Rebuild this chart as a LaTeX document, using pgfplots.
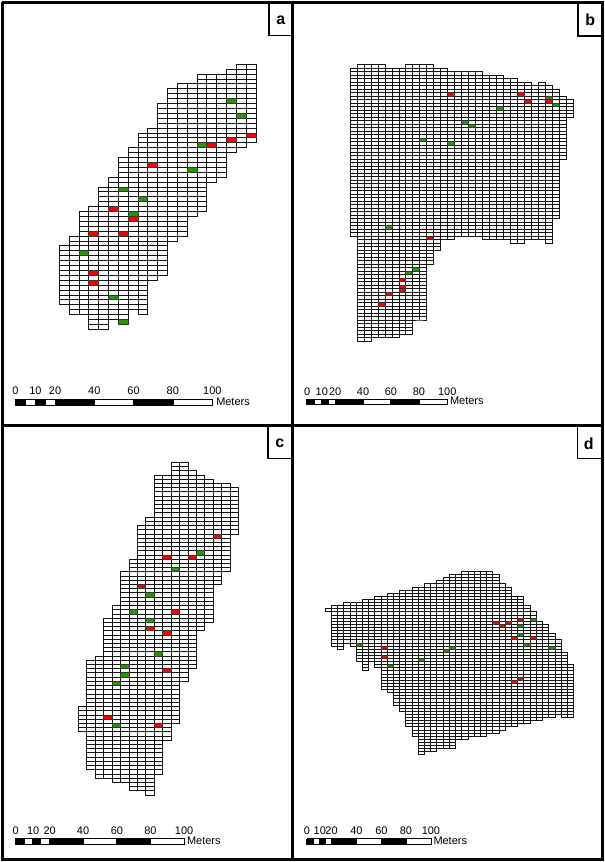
\documentclass[border=0pt]{standalone}
\usepackage{pgfplots}
\usepackage{pgfplotstable}
\usepackage{fontspec}
\setmainfont{Liberation Sans}
\pgfplotsset{compat=1.18}
\definecolor{cellgreen}{RGB}{40,150,0}
\definecolor{cellred}{RGB}{240,0,0}
\definecolor{gridink}{RGB}{20,20,20}

\pgfplotstableread{
c top bot
0 37 49
1 35 51
2 30 51
3 29 54
4 25 54
5 23 52
6 19 53
7 17 50
8 14 51
9 13 44
10 8 43
11 5 36
12 4 35
13 4 31
14 2 30
15 2 24
16 2 23
17 1 18
18 0 17
19 0 16
20 0 16
}\tablea
\pgfplotstableread{
c top bot
0 1 49
1 0 79
2 0 79
3 0 78
4 0 78
5 1 78
6 1 78
7 1 77
8 0 77
9 0 73
10 0 73
11 0 57
12 1 53
13 1 50
14 2 50
15 2 49
16 2 49
17 2 49
18 2 49
19 3 50
20 3 50
21 3 50
22 4 50
23 4 51
24 5 51
25 5 50
26 6 50
27 5 50
28 6 51
29 7 44
30 9 27
31 10 15
32 10 15
}\tableb
\pgfplotstableread{
c top bot
0 58 64
1 47 73
2 46 75
3 37 75
4 34 76
5 26 76
6 23 78
7 15 78
8 13 79
9 3 74
10 3 66
11 0 62
12 0 52
13 2 49
14 3 40
15 4 38
16 5 29
17 5 26
18 6 17
19 6 17
}\tablec
\pgfplotstableread{
c top bot
0 12 13
1 11 24
2 11 25
3 10 23
4 10 24
5 10 29
6 9 32
7 9 29
8 8 31
9 8 38
10 7 39
11 7 43
12 6 45
13 6 50
14 5 53
15 5 59
16 4 58
17 4 58
18 3 57
19 2 57
20 1 57
21 1 54
22 0 54
23 0 53
24 0 53
25 0 53
26 0 52
27 1 52
28 4 51
29 5 50
30 8 50
31 8 49
32 11 49
33 13 48
34 16 48
35 17 47
36 20 47
37 22 46
38 26 47
39 30 47
40 30 47
}\tabled

% #1 table, #2 n columns, #3 n-1, #4 m rows, #5 m-1, #6 left, #7 top (from bottom), #8 width, #9 height
\newcommand\panelaxis[9]{%
\begin{axis}[at={(#6pt,#7pt)},anchor=north west,scale only axis,width=#8pt,height=#9pt,
  xmin=0,xmax=#2,ymin=0,ymax=#4,y dir=reverse,clip=false,
  xtick={1,...,#3},ytick={1,...,#5},xticklabels={},yticklabels={},
  major tick length=0pt,tick style={draw=none},axis line style={draw=none},
  grid=major,grid style={gridink,line width=\gridw}]
\addplot[const plot,fill=white,draw=none] table[x=c,y=top]{#1} -- (axis cs:#2,0) -- (axis cs:0,0) -- cycle;
\addplot[const plot,fill=white,draw=none] table[x=c,y=bot]{#1} -- (axis cs:#2,#4) -- (axis cs:0,#4) -- cycle;
\addplot[draw=none,fill=white] coordinates {(-0.4,-1)(0.03,-1)(0.03,#4+1)(-0.4,#4+1)};
\addplot[draw=none,fill=white] coordinates {(#2-0.03,-1)(#2+0.4,-1)(#2+0.4,#4+1)(#2-0.03,#4+1)};
\addplot[draw=none,fill=white] coordinates {(-0.4,-0.6)(#2+0.4,-0.6)(#2+0.4,0.06)(-0.4,0.06)};
\addplot[draw=none,fill=white] coordinates {(-0.4,#4-0.06)(#2+0.4,#4-0.06)(#2+0.4,#4+0.6)(-0.4,#4+0.6)};
\addplot[const plot,gridink,line width=\gridw] table[x=c,y=top]{#1};
\addplot[const plot,gridink,line width=\gridw] table[x=c,y=bot]{#1};
\cellsandsides
\end{axis}}

\pgfplotsset{cellopts/.style n args={3}{only marks,mark=square*,mark size=0.5pt,
  mark options={xscale=#1,yscale=#2,draw=black!80,fill=#3,line width=\gridw}}}

\begin{document}
\begin{tikzpicture}
\begin{axis}[at={(0pt,0pt)},anchor=south west,scale only axis,width=604pt,height=862pt,
  xmin=0,xmax=604,ymin=0,ymax=862,y dir=reverse,hide axis,clip=false]
% frames
\addplot[black,line width=2.4pt] coordinates {(1,1)(602.2,1)(602.2,859.7)(1,859.7)(1,1)};
\addplot[black,line width=2.8pt] coordinates {(292,0)(292,861)};
\addplot[black,line width=3pt] coordinates {(0,424.5)(603,424.5)};
% label boxes
\addplot[black,line width=1.2pt] coordinates {(268,1)(268,34)(292,34)};
\addplot[black,line width=1.2pt] coordinates {(577.7,1)(577.7,34.7)(602,34.7)};
\addplot[black,line width=1.2pt] coordinates {(267,425)(267,457.7)(292,457.7)};
\addplot[black,line width=1.2pt] coordinates {(577.3,425)(577.3,457.7)(602,457.7)};
\node[font=\fontsize{16}{16}\selectfont\bfseries] at (axis cs:280,18.5) {a};
\node[font=\fontsize{16}{16}\selectfont\bfseries] at (axis cs:590,18.5) {b};
\node[font=\fontsize{16}{16}\selectfont\bfseries] at (axis cs:279,443) {c};
\node[font=\fontsize{16}{16}\selectfont\bfseries] at (axis cs:588.5,443) {d};
% scale bar a
\addplot[draw=black,fill=white,line width=0.8pt] coordinates {(13.7,398.5)(211,398.5)(211,405)(13.7,405)(13.7,398.5)};
\addplot[draw=none,fill=black] coordinates {(13.7,398.5)(25,398.5)(25,405)(13.7,405)};
\addplot[draw=none,fill=black] coordinates {(34,398.5)(44.3,398.5)(44.3,405)(34,405)};
\addplot[draw=none,fill=black] coordinates {(53.3,398.5)(93.3,398.5)(93.3,405)(53.3,405)};
\addplot[draw=none,fill=black] coordinates {(132,398.5)(172.7,398.5)(172.7,405)(132,405)};
% scale bar b
\addplot[draw=black,fill=white,line width=0.8pt] coordinates {(305.7,398.5)(447,398.5)(447,404)(305.7,404)(305.7,398.5)};
\addplot[draw=none,fill=black] coordinates {(305.7,398.5)(314,398.5)(314,404)(305.7,404)};
\addplot[draw=none,fill=black] coordinates {(319.7,398.5)(328.3,398.5)(328.3,404)(319.7,404)};
\addplot[draw=none,fill=black] coordinates {(334,398.5)(363,398.5)(363,404)(334,404)};
\addplot[draw=none,fill=black] coordinates {(389.7,398.5)(419,398.5)(419,404)(389.7,404)};
% scale bar c
\addplot[draw=black,fill=white,line width=0.8pt] coordinates {(14,838.7)(183.3,838.7)(183.3,845)(14,845)(14,838.7)};
\addplot[draw=none,fill=black] coordinates {(14,838.7)(23.3,838.7)(23.3,845)(14,845)};
\addplot[draw=none,fill=black] coordinates {(30.7,838.7)(40,838.7)(40,845)(30.7,845)};
\addplot[draw=none,fill=black] coordinates {(47.7,838.7)(82.7,838.7)(82.7,845)(47.7,845)};
\addplot[draw=none,fill=black] coordinates {(115,838.7)(150,838.7)(150,845)(115,845)};
% scale bar d
\addplot[draw=black,fill=white,line width=0.8pt] coordinates {(305.7,839)(430.3,839)(430.3,845)(305.7,845)(305.7,839)};
\addplot[draw=none,fill=black] coordinates {(305.7,839)(312.7,839)(312.7,845)(305.7,845)};
\addplot[draw=none,fill=black] coordinates {(317.7,839)(325.3,839)(325.3,845)(317.7,845)};
\addplot[draw=none,fill=black] coordinates {(330,839)(356.3,839)(356.3,845)(330,845)};
\addplot[draw=none,fill=black] coordinates {(380,839)(406,839)(406,845)(380,845)};
% scale texts
\begin{scope}[every node/.style={font=\fontsize{11}{11}\selectfont,inner sep=0pt}]
\node at (axis cs:14,389.7) {0};
\node at (axis cs:34,389.7) {10};
\node at (axis cs:53.7,389.7) {20};
\node at (axis cs:93,389.7) {40};
\node at (axis cs:132.3,389.7) {60};
\node at (axis cs:171.7,389.7) {80};
\node at (axis cs:211.3,389.7) {100};
\node[anchor=west] at (axis cs:215,401) {Meters};
\node at (axis cs:306.3,390.7) {0};
\node at (axis cs:321,390.7) {10};
\node at (axis cs:334.3,390.7) {20};
\node at (axis cs:362.3,390.7) {40};
\node at (axis cs:390.3,390.7) {60};
\node at (axis cs:418.3,390.7) {80};
\node at (axis cs:446.7,390.7) {100};
\node[anchor=west] at (axis cs:449.3,400.7) {Meters};
\node at (axis cs:14.3,830.7) {0};
\node at (axis cs:31.7,830.7) {10};
\node at (axis cs:48.3,830.7) {20};
\node at (axis cs:81.7,830.7) {40};
\node at (axis cs:115.7,830.7) {60};
\node at (axis cs:149.3,830.7) {80};
\node at (axis cs:183,830.7) {100};
\node[anchor=west] at (axis cs:185.7,841) {Meters};
\node at (axis cs:306,830.7) {0};
\node at (axis cs:319,830.7) {10};
\node at (axis cs:330.7,830.7) {20};
\node at (axis cs:355.7,830.7) {40};
\node at (axis cs:380.7,830.7) {60};
\node at (axis cs:405.3,830.7) {80};
\node at (axis cs:430.3,830.7) {100};
\node[anchor=west] at (axis cs:432.7,841) {Meters};
\end{scope}
\end{axis}

\def\gridw{0.92pt}
% panel a
\def\cellsandsides{%
\addplot[gridink,line width=\gridw] coordinates {(0,37)(0,49)};
\addplot[gridink,line width=\gridw] coordinates {(20,0)(20,16)};
\addplot[cellopts={9.85}{4.92}{cellgreen}] coordinates {(17.5,7.5)(18.5,10.5)(14.5,16.5)(13.5,21.5)(6.5,25.5)(8.5,27.5)(7.5,30.5)(2.5,38.5)(5.5,47.5)(6.5,52.5)};
\addplot[cellopts={9.85}{4.92}{cellred}] coordinates {(19.5,14.5)(17.5,15.5)(15.5,16.5)(9.5,20.5)(5.5,29.5)(7.5,31.5)(3.5,34.5)(6.5,34.5)(3.5,42.5)(3.5,44.5)};
}
\panelaxis{\tablea}{20}{19}{54}{53}{58}{799}{197}{265.7}

% panel b
\def\cellsandsides{%
\addplot[gridink,line width=\gridw] coordinates {(0,1)(0,49)};
\addplot[gridink,line width=\gridw] coordinates {(32,10)(32,15)};
\addplot[cellopts={7}{3.5}{cellgreen}] coordinates {(28.5,9.5)(29.5,11.5)(21.5,12.5)(16.5,16.5)(17.5,17.5)(10.5,21.5)(14.5,22.5)(5.5,46.5)(9.5,58.5)(8.5,59.5)};
\addplot[cellopts={7}{3.5}{cellred}] coordinates {(14.5,8.5)(24.5,8.5)(25.5,10.5)(28.5,10.5)(11.5,49.5)(7.5,61.5)(7.5,63.5)(7.5,64.5)(5.5,65.5)(4.5,68.5)};
}
\panelaxis{\tableb}{32}{31}{79}{78}{349.3}{798.3}{224}{276.6}

% panel c
\def\cellsandsides{%
\addplot[gridink,line width=\gridw] coordinates {(0,58)(0,64)};
\addplot[gridink,line width=\gridw] coordinates {(19,6)(19,17)};
\addplot[cellopts={8.46}{4.22}{cellgreen}] coordinates {(14.5,21.5)(11.5,25.5)(8.5,31.5)(6.5,35.5)(8.5,37.5)(9.5,45.5)(5.5,48.5)(5.5,50.5)(4.5,52.5)(4.5,62.5)};
\addplot[cellopts={8.46}{4.22}{cellred}] coordinates {(16.5,17.5)(10.5,22.5)(13.5,22.5)(7.5,29.5)(11.5,35.5)(8.5,39.5)(10.5,40.5)(10.5,49.5)(3.5,60.5)(9.5,62.5)};
}
\panelaxis{\tablec}{19}{18}{79}{78}{77}{400}{160.7}{333.3}

% panel d
\def\cellsandsides{%
\addplot[gridink,line width=\gridw] coordinates {(0,12)(0,13)};
\addplot[gridink,line width=\gridw] coordinates {(40,30)(40,47)};
\addplot[cellopts={6.225}{3.113}{cellgreen}] coordinates {(33.5,15.5)(31.5,17.5)(31.5,20.5)(32.5,23.5)(20.5,24.5)(36.5,24.5)(19.5,25.5)(5.5,23.5)(15.5,28.5)(10.5,30.5)};
\addplot[cellopts={6.225}{3.113}{cellred}] coordinates {(31.5,15.5)(27.5,16.5)(29.5,16.5)(28.5,17.5)(30.5,21.5)(33.5,21.5)(31.5,34.5)(30.5,35.5)(9.5,24.5)(9.5,27.5)};
}
\panelaxis{\tabled}{40}{39}{59}{58}{324.3}{290.7}{249}{183.7}
\end{tikzpicture}
\end{document}
